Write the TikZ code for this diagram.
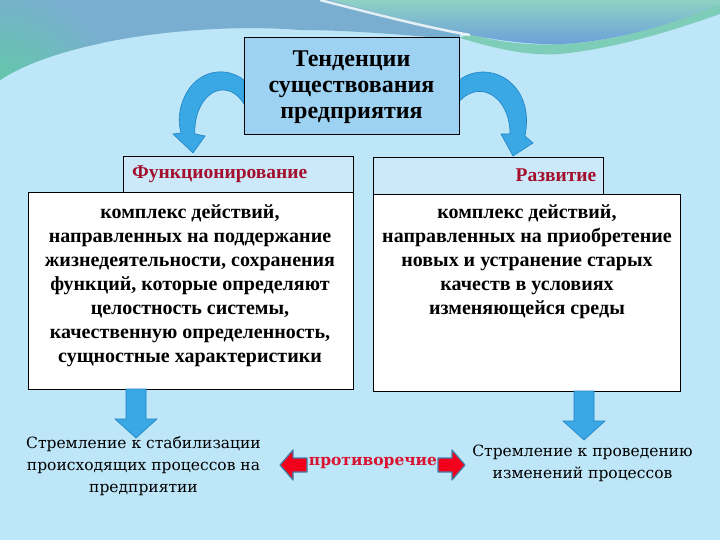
\documentclass[tikz,border=0pt]{standalone}
\usepackage{fontspec}
\setmainfont{Liberation Serif}
\newfontfamily\antiqua{DejaVu Serif}
\usetikzlibrary{positioning}
\definecolor{sky}{HTML}{BDE6F8}
\definecolor{steel}{HTML}{79AED0}
\definecolor{seagreen}{HTML}{5FCDA0}
\definecolor{teal}{HTML}{8FD1C4}
\definecolor{lens}{HTML}{6A9FDB}
\definecolor{band}{HTML}{7ECDB8}
\definecolor{topfill}{HTML}{9ED2F2}
\definecolor{headfill}{HTML}{CBE9F9}
\definecolor{arrowblue}{HTML}{3AA8E4}
\definecolor{arrowedge}{HTML}{2183C2}
\definecolor{darkred}{HTML}{A30F2D}
\definecolor{alarm}{HTML}{F2001C}
\definecolor{alarmtext}{HTML}{D9122F}
\definecolor{shadow}{HTML}{3F7FA8}
\tikzset{
  topbox/.style={draw=black,fill=topfill,line width=.8pt,align=center,
    font=\fontsize{24}{26}\selectfont\bfseries},
  headbox/.style={draw=black,fill=headfill,line width=.8pt,minimum width=230,minimum height=37},
  bodybox/.style={draw=black,fill=white,line width=1pt},
  bodytext/.style={align=center,inner sep=0,anchor=north,
    font=\fontsize{20}{24}\selectfont\bfseries},
  headtext/.style={text=darkred,inner sep=0,font=\fontsize{19.5}{20}\selectfont\bfseries},
  goaltext/.style={align=center,inner sep=0,font=\antiqua\fontsize{15.5}{22}\selectfont},
  bluearrow/.style={fill=arrowblue,draw=arrowedge,line width=.6pt},
  redarrow/.style={fill=alarm,draw=shadow,line width=1.2pt,line join=round}
}
\newcommand\blockdown[1]{\fill[bluearrow] (#1) ++(-10,0) -- ++(0,30) -- ++(-11,0) -- ++(21,19) -- ++(21,-19) -- ++(-11,0) -- ++(0,-30) -- cycle;}
\begin{document}
\begin{tikzpicture}[x=1pt,y=-1pt]
  \useasboundingbox (0,0) rectangle (720,540);
  \fill[sky] (0,0) rectangle (720,540);
  \begin{scope}
    \clip (0,0) -- (460,0) -- (460,40) .. controls (400,34) and (340,30) .. (300,30)
      .. controls (200,22) and (60,40) .. (0,80) -- cycle;
    \fill[steel] (0,0) rectangle (460,80);
    \shade[inner color=seagreen,outer color=steel] (0,105) circle (120);
  \end{scope}
  \fill[band] (460,38) .. controls (500,50) and (530,56) .. (560,54)
    .. controls (620,48) and (680,28) .. (720,14) -- (720,4)
    .. controls (680,20) and (620,42) .. (560,44) .. controls (520,46) and (490,40) .. (470,34) -- cycle;
  \shade[top color=teal,bottom color=lens] (330,0) -- (720,0) -- (720,4)
    .. controls (690,18) and (620,42) .. (560,44) .. controls (500,46) and (420,25) .. (330,0) -- cycle;
  \draw[white,line width=2.5pt,opacity=.8] (320,0) .. controls (390,18) and (430,28) .. (470,35);
  \fill[bluearrow] (244,80) .. controls (226,66) and (200,70) .. (187,92) .. controls (178,108) and (178,122) .. (181,133)
    -- (173,134) -- (193,153) -- (205,136) -- (195,134)
    .. controls (194,120) and (199,100) .. (214,92) .. controls (227,86) and (238,94) .. (244,104) -- cycle;
  \fill[bluearrow] (458,81) .. controls (476,66) and (504,70) .. (518,91) .. controls (527,104) and (528,120) .. (525,136)
    -- (533,143) -- (513,156) -- (501,134) -- (510,134)
    .. controls (510,118) and (504,101) .. (490,94) .. controls (478,88) and (466,93) .. (458,103) -- cycle;
  \node[topbox,minimum width=215,minimum height=97] (T) at (351.5,85.5) {};
  \node[topbox,draw=none,fill=none,inner sep=0] (Tt) at (351.5,87.5)
    {Тенденции\\существования\\предприятия};
  \node[headbox] (F) at (238,174.5) {};
  \node[headbox] (R) at (488,175.5) {};
  \node[headtext,anchor=west] (Ft) at (132,174) {Функционирование};
  \node[headtext] (Rt) at (556,175) {Развитие};
  \node[bodybox,minimum width=325,minimum height=196] (L) at (190.5,291) {};
  \node[bodybox,minimum width=307,minimum height=196] (D) at (526.5,293) {};
  \node[bodytext] (Lt) at (190,205) {комплекс действий,\\направленных на поддержание\\жизнедеятельности, сохранения\\функций, которые определяют\\целостность системы,\\качественную определенность,\\сущностные характеристики};
  \node[bodytext] (Dt) at (527,205) {комплекс действий,\\направленных на приобретение\\новых и устранение старых\\качеств в условиях\\изменяющейся среды};
  \coordinate (A) at (136,389);
  \coordinate (B) at (584,391);
  \blockdown{A}
  \blockdown{B}
  \node[goaltext] (S) at (143.5,466) {Стремление к стабилизации\\происходящих процессов на\\предприятии};
  \node[goaltext] (P) at (582.5,463) {Стремление к проведению\\изменений процессов};
  \node[inner sep=0,text=alarmtext,font=\antiqua\bfseries\fontsize{15.5}{16}\selectfont] (C) at (373,463) {противоречие};
  \fill[redarrow] (280,465) -- (293,450) -- (293,458) -- (307,458) -- (307,472) -- (293,472) -- (293,480) -- cycle;
  \fill[redarrow] (465,465) -- (452,450) -- (452,458) -- (438,458) -- (438,472) -- (452,472) -- (452,480) -- cycle;
\end{tikzpicture}
\end{document}
